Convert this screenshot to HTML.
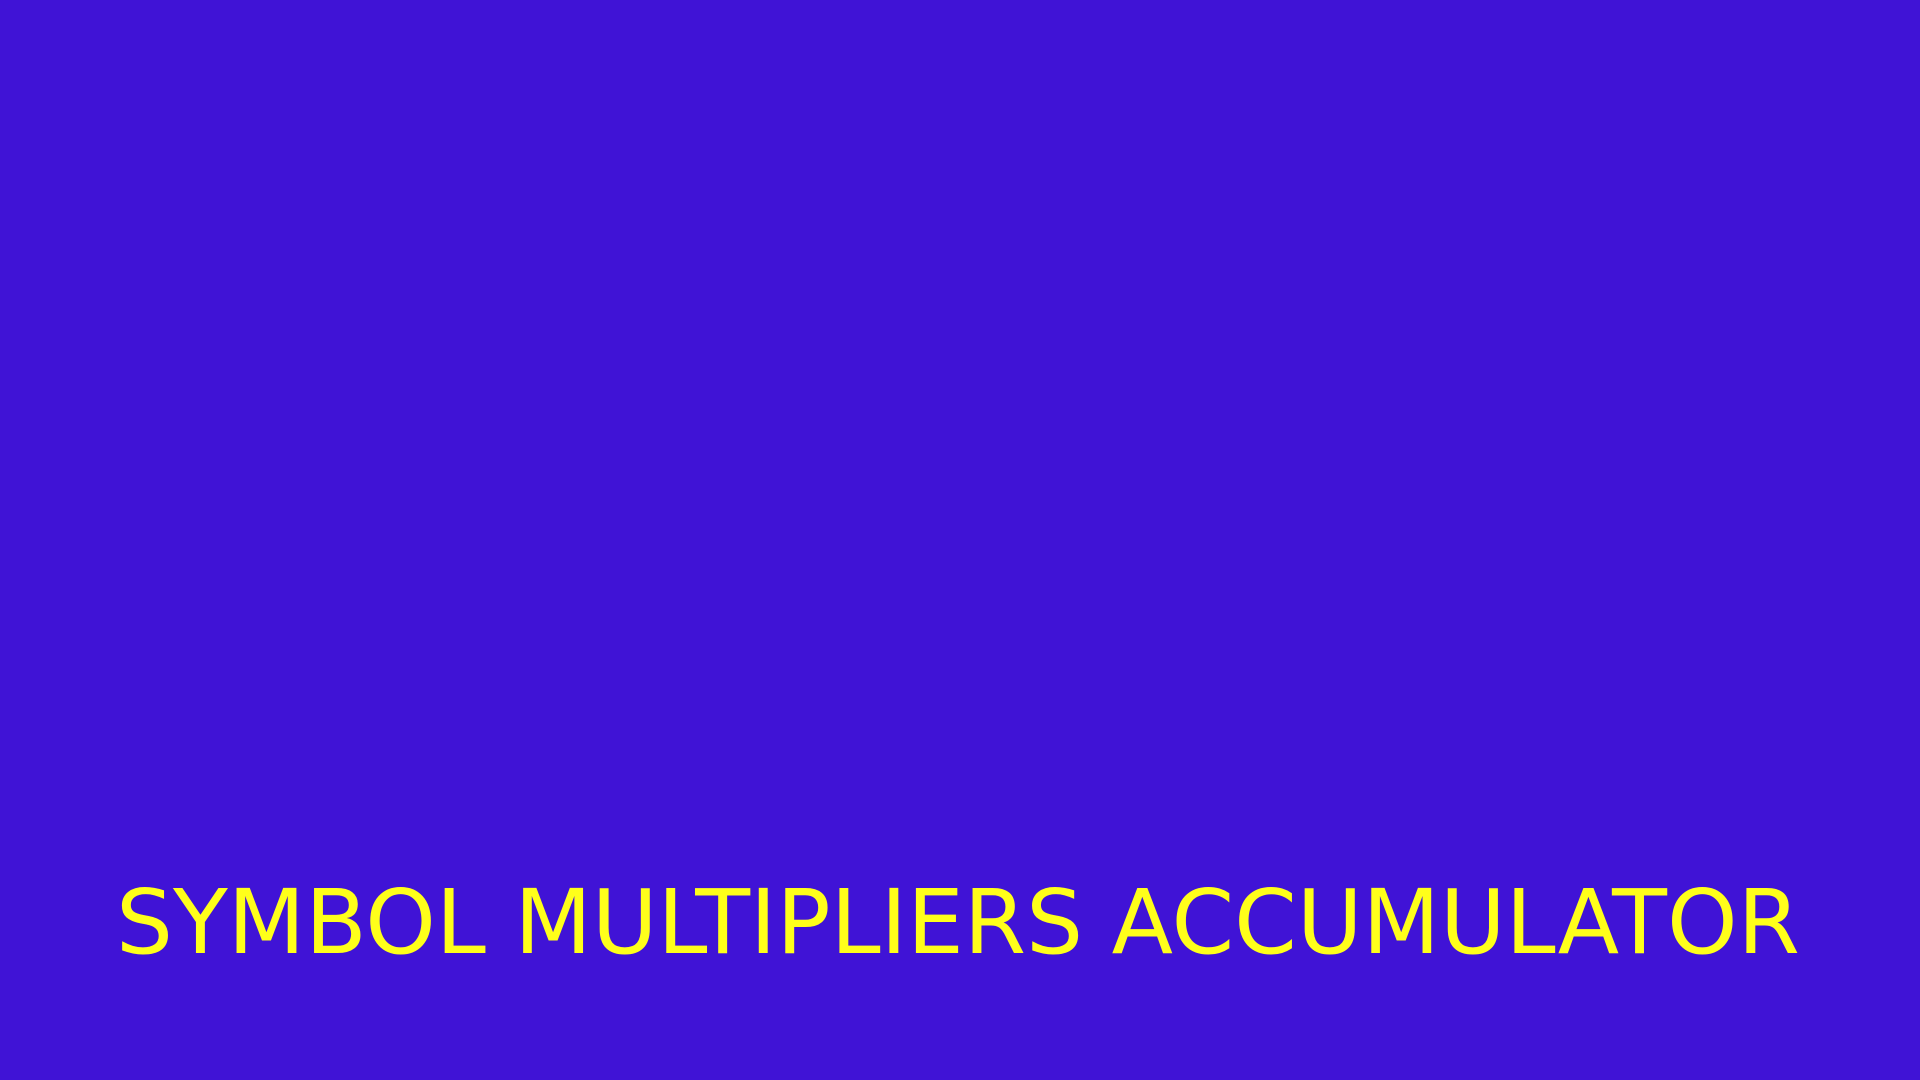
<!DOCTYPE html>
<html>
<head>
<meta charset="utf-8">
<style>
html,body{margin:0;padding:0;width:1920px;height:1080px;overflow:hidden;background:#4013d6;}
svg{display:block;}
</style>
</head>
<body>
<svg width="1920" height="1080" viewBox="0 0 1920 1080" xmlns="http://www.w3.org/2000/svg">
<rect width="1920" height="1080" fill="#4013d6"/>
<text x="116" y="953" font-family="'DejaVu Sans', 'Liberation Sans', sans-serif" font-size="89" fill="#ffff1a" textLength="1684" lengthAdjust="spacingAndGlyphs">SYMBOL MULTIPLIERS ACCUMULATOR</text>
</svg>
</body>
</html>
